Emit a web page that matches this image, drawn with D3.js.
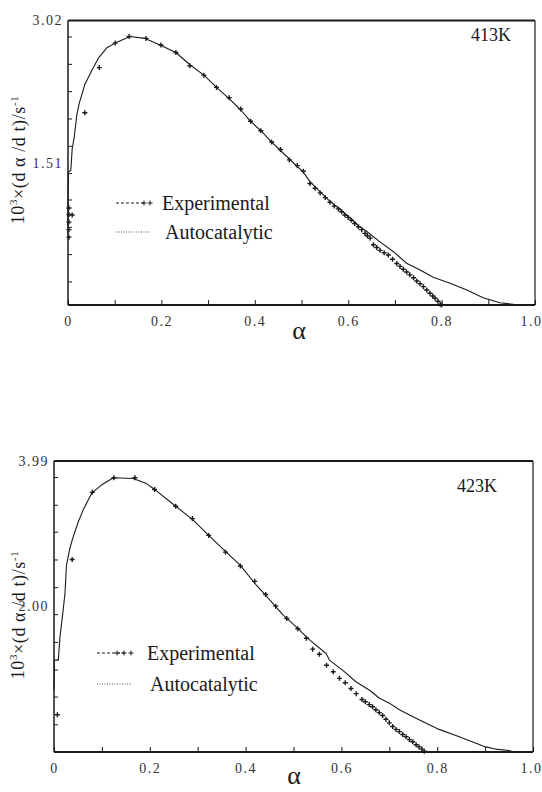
<!DOCTYPE html>
<html>
<head>
<meta charset="utf-8">
<script src="https://cdn.jsdelivr.net/npm/d3@7/dist/d3.min.js"></script>
<style>
body { margin: 0; background: #fff; }
svg { display: block; font-family: "Liberation Serif", "DejaVu Serif", serif; }
svg text { font-family: "Liberation Serif", "DejaVu Serif", serif; }
</style>
</head>
<body>
<svg id="chart" width="542" height="792"></svg>
<script>
// 413K : experimental points [alpha, rate] and autocatalytic fit
var exp413 = [[0.002,0.72],[0.002,0.80],[0.002,0.88],[0.002,0.96],[0.002,1.03],[0.009,0.955],
    [0.036,2.04],[0.067,2.52],[0.101,2.78],[0.131,2.85],[0.167,2.83],[0.199,2.76],[0.231,2.68],
    [0.261,2.54],[0.291,2.44],[0.318,2.31],[0.345,2.20],[0.370,2.08],[0.391,1.95],[0.413,1.85],
    [0.436,1.73],[0.455,1.65],[0.474,1.54],[0.491,1.48],[0.504,1.42],[0.518,1.29],[0.529,1.24],
    [0.540,1.19],[0.551,1.14],[0.561,1.09],[0.570,1.05],[0.579,1.02],[0.586,0.99],[0.593,0.955],
    [0.600,0.93],[0.607,0.90],[0.614,0.865],[0.622,0.83],[0.629,0.80],[0.636,0.76],[0.641,0.735],
    [0.647,0.71],[0.654,0.64],[0.661,0.61],[0.668,0.58],[0.677,0.555],[0.686,0.53],[0.695,0.485],
    [0.704,0.44],[0.711,0.41],[0.718,0.38],[0.725,0.35],[0.732,0.32],[0.740,0.29],[0.747,0.255],
    [0.754,0.225],[0.761,0.195],[0.768,0.16],[0.775,0.124],[0.781,0.095],[0.786,0.071],
    [0.792,0.04],[0.797,0.007],[0.800,0.0]];
var fit413 = [[0,0.75],[0,1.10],[0.001,1.41],[0.006,1.43],[0.009,1.66],[0.013,1.77],[0.019,2.02],[0.024,2.14],
    [0.036,2.34],[0.051,2.49],[0.065,2.62],[0.083,2.73],[0.101,2.78],[0.133,2.85],[0.165,2.83],
    [0.197,2.76],[0.231,2.68],[0.261,2.55],[0.291,2.44],[0.318,2.31],[0.345,2.19],[0.370,2.07],
    [0.391,1.95],[0.413,1.85],[0.436,1.73],[0.455,1.64],[0.474,1.55],[0.491,1.47],[0.504,1.41],
    [0.518,1.31],[0.540,1.20],[0.561,1.10],[0.579,1.03],[0.593,0.97],[0.607,0.91],[0.622,0.84],
    [0.640,0.78],[0.668,0.67],[0.697,0.566],[0.725,0.443],[0.754,0.372],[0.782,0.294],[0.818,0.23],
    [0.854,0.159],[0.889,0.077],[0.925,0.024],[0.954,0.007],[0.980,0.0]];

// 423K
var exp423 = [[0.007,0.51],[0.038,2.64],[0.080,3.56],[0.125,3.76],[0.169,3.76],[0.210,3.60],
    [0.254,3.37],[0.289,3.20],[0.323,2.97],[0.358,2.74],[0.389,2.55],[0.419,2.34],[0.442,2.16],
    [0.463,2.00],[0.486,1.83],[0.509,1.69],[0.527,1.56],[0.540,1.41],[0.554,1.34],[0.569,1.19],
    [0.583,1.10],[0.596,1.01],[0.608,0.95],[0.620,0.87],[0.631,0.80],[0.643,0.72],[0.650,0.69],
    [0.658,0.65],[0.665,0.62],[0.672,0.58],[0.679,0.54],[0.686,0.50],[0.693,0.45],[0.700,0.40],
    [0.707,0.35],[0.714,0.31],[0.721,0.28],[0.728,0.24],[0.735,0.21],[0.742,0.17],[0.749,0.14],
    [0.756,0.10],[0.762,0.07],[0.768,0.04],[0.773,0.01]];
var fit423 = [[0,0.85],[0.001,1.26],[0.009,1.26],[0.0125,1.58],[0.018,1.88],[0.023,2.18],[0.026,2.56],
    [0.033,2.79],[0.040,2.95],[0.051,3.16],[0.061,3.32],[0.079,3.55],[0.099,3.66],[0.124,3.76],
    [0.165,3.75],[0.193,3.68],[0.210,3.60],[0.254,3.37],[0.289,3.19],[0.323,2.97],[0.358,2.75],
    [0.389,2.56],[0.422,2.29],[0.450,2.09],[0.478,1.88],[0.505,1.72],[0.533,1.54],[0.568,1.35],
    [0.575,1.26],[0.603,1.12],[0.631,0.96],[0.658,0.85],[0.679,0.74],[0.700,0.67],[0.721,0.58],
    [0.763,0.44],[0.804,0.31],[0.846,0.21],[0.881,0.12],[0.901,0.07],[0.922,0.04],[0.950,0.02],
    [0.960,0.0]];

// axes
var xMinor = [0, 0.1, 0.2, 0.3, 0.4, 0.5, 0.6, 0.7, 0.8, 0.9, 1.0];
var xLabels = [0, 0.2, 0.4, 0.6, 0.8, 1.0];
var yLabels413 = [1.51, 3.02];
var yLabels423 = [2.00, 3.99];
var yMinor413 = [0.25, 0.54, 0.83, 1.12, 1.40, 1.69, 1.98, 2.27, 2.56, 2.85];
var yMinor423 = [0.38, 0.76, 1.13, 1.51, 1.89, 2.26, 2.64, 3.02, 3.39, 3.77];
var legendNames = ["Experimental", "Autocatalytic"];

var svg = d3.select("#chart");
var ink = "#1a1a1a";
var serif = "Liberation Serif, DejaVu Serif, serif";

function drawPanel(p) {
    var x = d3.scaleLinear().domain([0, 1]).range([p.left, p.right]);
    var y = d3.scaleLinear().domain([0, p.yMax]).range([p.bottom, p.top]);
    var g = svg.append("g");

    // inside ticks + labels, x
    var xa = g.append("g")
        .attr("transform", "translate(0," + p.bottom + ")")
        .call(d3.axisBottom(x).tickValues(xMinor).tickSizeInner(-5).tickSizeOuter(0).tickPadding(11)
            .tickFormat(function(d) {
                return xLabels.some(function(v) { return Math.abs(v - d) < 1e-9; }) ? (d === 0 ? "0" : d3.format(".1f")(d)) : "";
            }));
    xa.attr("font-family", serif);
    xa.select(".domain").remove();
    xa.selectAll("line").attr("stroke", ink);
    xa.selectAll("text").attr("font-size", 14).attr("fill", "#333")
        .style("letter-spacing", "1.5px");
    xa.selectAll("text").filter(function(d) { return d === 1; })
        .attr("text-anchor", "end").attr("x", p.lastLabelShift);

    // inside ticks y
    var ya = g.append("g")
        .attr("transform", "translate(" + p.left + ",0)")
        .call(d3.axisLeft(y).tickValues(p.yMinor).tickSizeInner(-4).tickSizeOuter(0).tickFormat(""));
    ya.select(".domain").remove();
    ya.selectAll("line").attr("stroke", ink);
    var yl = g.append("g")
        .attr("transform", "translate(" + p.left + ",0)")
        .call(d3.axisLeft(y).tickValues(p.yLabels).tickSize(0).tickPadding(5).tickFormat(d3.format(".2f")));
    yl.attr("font-family", serif);
    yl.select(".domain").remove();
    yl.selectAll("text").attr("font-size", 14).attr("fill", "#333")
        .style("letter-spacing", "1.5px");

    // frame
    g.append("line").attr("x1", p.left).attr("x2", p.right).attr("y1", p.top).attr("y2", p.top)
        .attr("stroke", ink).attr("stroke-width", 2);
    g.append("line").attr("x1", p.right).attr("x2", p.right).attr("y1", p.top).attr("y2", p.bottom)
        .attr("stroke", ink).attr("stroke-width", 1.2);
    g.append("line").attr("x1", p.left).attr("x2", p.left).attr("y1", p.top).attr("y2", p.bottom)
        .attr("stroke", ink).attr("stroke-width", 1.5);
    g.append("line").attr("x1", p.left).attr("x2", p.right).attr("y1", p.bottom).attr("y2", p.bottom)
        .attr("stroke", ink).attr("stroke-width", 1.8);

    // fit curve
    var line = d3.line()
        .x(function(d) { return x(d[0]); })
        .y(function(d) { return y(d[1]); });
    g.append("path")
        .datum(p.fit)
        .attr("fill", "none")
        .attr("stroke", ink)
        .attr("stroke-width", 1.1)
        .attr("stroke-linejoin", "round")
        .attr("d", line);

    // experimental crosses
    g.selectAll(".pt")
        .data(p.exp)
        .enter().append("path")
        .attr("class", "pt")
        .attr("transform", function(d) { return "translate(" + x(d[0]) + "," + y(d[1]) + ")"; })
        .attr("d", "M-2.5,0H2.5M0,-2.5V2.5")
        .attr("stroke", ink)
        .attr("stroke-width", 1.4);

    // legend
    var lx = p.legX, ly = p.legY;
    g.append("line").attr("x1", lx).attr("x2", lx + 28).attr("y1", ly).attr("y2", ly)
        .attr("stroke", ink).attr("stroke-width", 1).attr("stroke-dasharray", "3,2");
    p.legPlus.forEach(function(off) {
        var cx = lx + off;
        g.append("path").attr("d", "M" + (cx - 2.5) + "," + ly + "H" + (cx + 2.5) + "M" + cx + "," + (ly - 2.5) + "V" + (ly + 2.5))
            .attr("stroke", ink).attr("stroke-width", 1);
    });
    g.append("line").attr("x1", lx).attr("x2", lx + 34).attr("y1", ly + p.legGap).attr("y2", ly + p.legGap)
        .attr("stroke", "#555").attr("stroke-width", 1).attr("stroke-dasharray", "1,1.5");
    g.append("text").attr("x", lx + p.legText).attr("y", ly).attr("dy", "0.35em")
        .attr("font-size", 20).attr("fill", ink).text(legendNames[0]);
    g.append("text").attr("x", lx + p.legText + 3).attr("y", ly + p.legGap).attr("dy", "0.35em")
        .attr("font-size", 20).attr("fill", ink).text(legendNames[1]);

    // temperature
    g.append("text").attr("x", p.tempX).attr("y", p.tempY).attr("dy", "0.35em")
        .attr("font-size", 18).attr("fill", ink).text(p.temp);

    // axis titles
    g.append("text").attr("x", p.alphaX).attr("y", p.alphaY)
        .attr("text-anchor", "middle").attr("font-size", 26).attr("fill", ink).text("α");
    var yt = g.append("text")
        .attr("transform", "translate(" + p.titleX + "," + p.titleY + ") rotate(-90)")
        .attr("text-anchor", "middle").attr("font-size", 18).attr("fill", ink)
        .style("letter-spacing", "0.6px");
    yt.append("tspan").text("10");
    yt.append("tspan").attr("font-size", 11).attr("dy", "-0.6em").text("3");
    yt.append("tspan").attr("dy", "0.4em").text("×(d α /d t)/s");
    yt.append("tspan").attr("font-size", 11).attr("dy", "-0.6em").text("-1");
}

drawPanel({left: 68, right: 535, top: 20.5, bottom: 305, yMax: 3.02,
    yMinor: yMinor413, yLabels: yLabels413, fit: fit413, exp: exp413, lastLabelShift: 7,
    legX: 116, legY: 203, legGap: 29, legText: 46, legPlus: [28, 34], temp: "413K", tempX: 471, tempY: 35,
    alphaX: 299, alphaY: 339, titleX: 24, titleY: 160});
drawPanel({left: 54, right: 533, top: 461, bottom: 752, yMax: 3.99,
    yMinor: yMinor423, yLabels: yLabels423, fit: fit423, exp: exp423, lastLabelShift: 9,
    legX: 97, legY: 653, legGap: 31, legText: 50, legPlus: [20, 27, 34], temp: "423K", tempX: 457, tempY: 486,
    alphaX: 294, alphaY: 784, titleX: 24, titleY: 615});
</script>
</body>
</html>
